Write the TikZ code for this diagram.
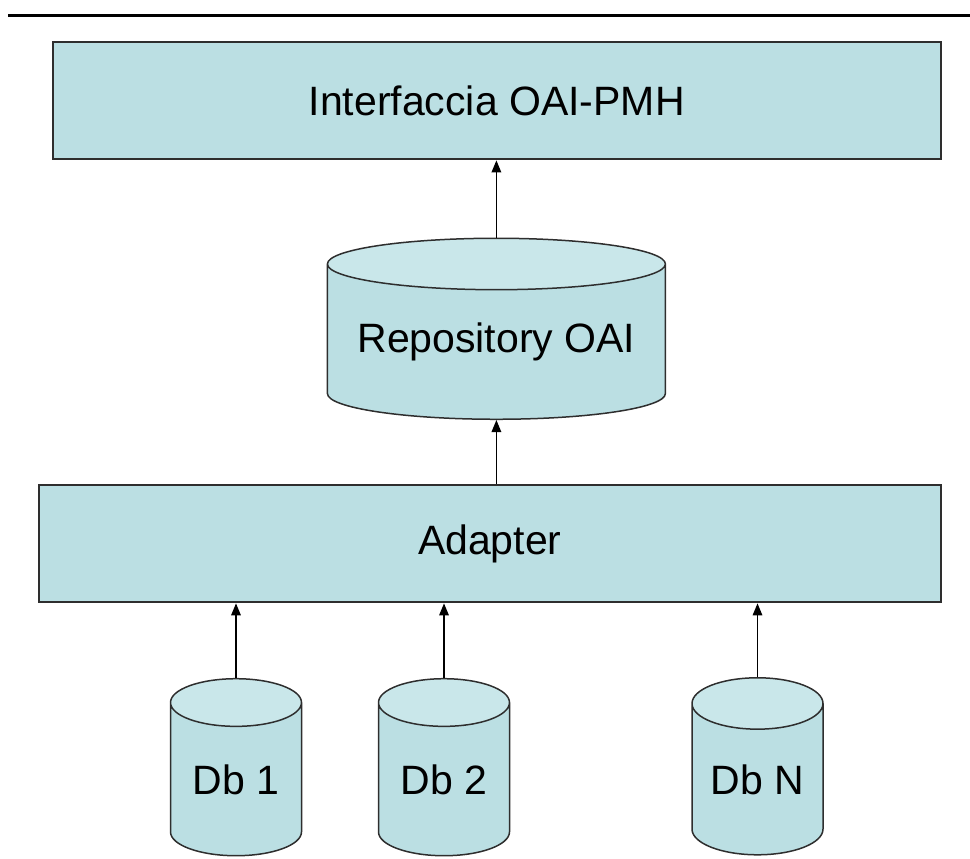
\documentclass[tikz,border=0pt]{standalone}
\usepackage{fontspec}
\setmainfont{Liberation Sans}
\usetikzlibrary{arrows.meta,positioning,shapes.geometric}
\definecolor{boxfill}{HTML}{BBDFE3}
\definecolor{capfill}{HTML}{C9E7EA}
\definecolor{edgegray}{HTML}{2E2E2E}
\tikzset{
  layer/.style={draw=edgegray,line width=2pt,fill=boxfill,minimum height=117pt,
    font=\fontsize{41}{49}\selectfont},
  store/.style={cylinder,shape border rotate=90,draw=edgegray,line width=1.5pt,
    cylinder uses custom fill,cylinder body fill=boxfill,cylinder end fill=capfill,
    inner sep=0pt,font=\fontsize{41}{49}\selectfont},
  dbstore/.style={store,aspect=0.55,minimum width=131pt,minimum height=177pt},
  link/.style={-{Triangle[length=12pt,width=9.5pt]},line width=1.5pt}
}

\begin{document}
\begin{tikzpicture}[x=1pt,y=-1pt]
  \useasboundingbox (0,0) rectangle (970,859);
  % header rule
  \fill (8,14) rectangle (970,17.5);
  % layers
  \node[layer,minimum width=888pt] (oai) at (496.7,100.85) {Interfaccia OAI-PMH};
  \node[store,aspect=0.185,minimum width=338pt,minimum height=181pt] (repo)
    at (496.4,342) {Repository OAI};
  \node[layer,minimum width=902pt] (adapter) at (489.85,543.85) {Adapter};
  % sources
  \node[dbstore] (db1) at (236,779.5) {Db 1};
  \node[dbstore] (db2) at (444,779.5) {Db 2};
  \node[dbstore] (dbn) at (757.5,779.5) {Db N};
  % links
  \draw[link] (repo.north) -- (repo.north |- oai.south);
  \draw[link] (repo.south |- adapter.north) -- (repo.south);
  \foreach \src in {db1,db2,dbn}
    \draw[link] (\src.north) -- (\src.north |- adapter.south);
\end{tikzpicture}
\end{document}
